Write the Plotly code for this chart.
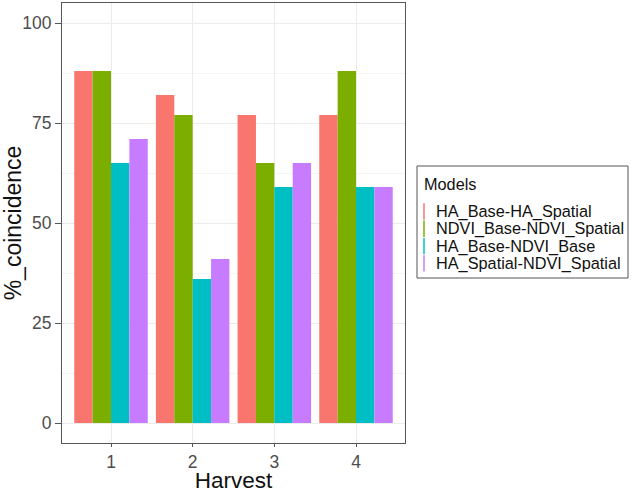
import plotly.graph_objects as go

harvest = [1, 2, 3, 4]
models = ["HA_Base-HA_Spatial", "NDVI_Base-NDVI_Spatial", "HA_Base-NDVI_Base", "HA_Spatial-NDVI_Spatial"]
ha_base_ha_spatial = [88, 82, 77, 77]
ndvi_base_ndvi_spatial = [88, 77, 65, 88]
ha_base_ndvi_base = [65, 36, 59, 59]
ha_spatial_ndvi_spatial = [71, 41, 65, 59]
series = [ha_base_ha_spatial, ndvi_base_ndvi_spatial, ha_base_ndvi_base, ha_spatial_ndvi_spatial]
colors = ["#F8766D", "#7CAE00", "#00BFC4", "#C77CFF"]
y_ticks = [0, 25, 50, 75, 100]
legend_title = "Models"

W, H = 633, 493
L, R, T, B = 62, 228, 3, 50
pw, ph = W - L - R, H - T - B


def px_x(px):
    return (px - L) / pw


def px_y(py):
    return (H - B - py) / ph


fig = go.Figure()
for name, vals, col in zip(models, series, colors):
    fig.add_trace(go.Bar(x=harvest, y=vals, name=name, marker=dict(color=col, line=dict(width=0)),
                         showlegend=False, hoverinfo="y+name"))

# manual ggplot-style legend
shapes = [dict(type="rect", xref="paper", yref="paper",
               x0=px_x(417), x1=px_x(628), y0=px_y(278), y1=px_y(166),
               line=dict(color="#555", width=1), fillcolor="white", layer="below")]
annotations = [dict(text=legend_title, xref="paper", yref="paper", x=px_x(422), y=px_y(184),
                    xanchor="left", yanchor="middle", showarrow=False,
                    font=dict(size=16.3, color="#111"))]
row0, step = 211.5, 17.3
for i, (name, col) in enumerate(zip(models, colors)):
    cy = row0 + i * step
    shapes.append(dict(type="line", xref="paper", yref="paper",
                       x0=px_x(424), x1=px_x(424), y0=px_y(cy - 8.2), y1=px_y(cy + 8.2),
                       line=dict(color=col, width=1.5)))
    annotations.append(dict(text=name, xref="paper", yref="paper", x=px_x(434), y=px_y(cy),
                            xanchor="left", yanchor="middle", showarrow=False,
                            font=dict(size=16.3, color="#111")))

fig.update_layout(
    width=W, height=H,
    margin=dict(l=L, r=R, t=T, b=B),
    paper_bgcolor="white", plot_bgcolor="white",
    barmode="group", bargap=0.1, bargroupgap=0,
    showlegend=False,
    font=dict(family="Liberation Sans, Arial, sans-serif", color="#222"),
    shapes=shapes, annotations=annotations,
    xaxis=dict(range=[0.4, 4.6], tickvals=harvest, ticktext=[str(h) for h in harvest],
               showgrid=True, gridcolor="#ebebeb", gridwidth=1,
               ticks="outside", ticklen=3, tickcolor="#555",
               tickfont=dict(size=17.5, color="#4d4d4d"),
               title=dict(text="Harvest", font=dict(size=22.5, color="#111"), standoff=1),
               showline=True, linecolor="#555", mirror=True, zeroline=False, automargin=False),
    yaxis=dict(range=[-5, 105], tickvals=y_ticks,
               showgrid=True, gridcolor="#ebebeb", gridwidth=1,
               minor=dict(tickvals=[12.5, 37.5, 62.5, 87.5], showgrid=True, gridcolor="#f4f4f4", ticklen=0),
               ticks="outside", ticklen=6, tickcolor="#555",
               tickfont=dict(size=17.5, color="#4d4d4d"),
               title=dict(text="%_coincidence", font=dict(size=23, color="#111"), standoff=0),
               showline=True, linecolor="#555", mirror=True, zeroline=False, automargin=False),
)

fig.write_html("out.html", config={"displayModeBar": False},
               post_script="document.body.style.margin='0px';")
